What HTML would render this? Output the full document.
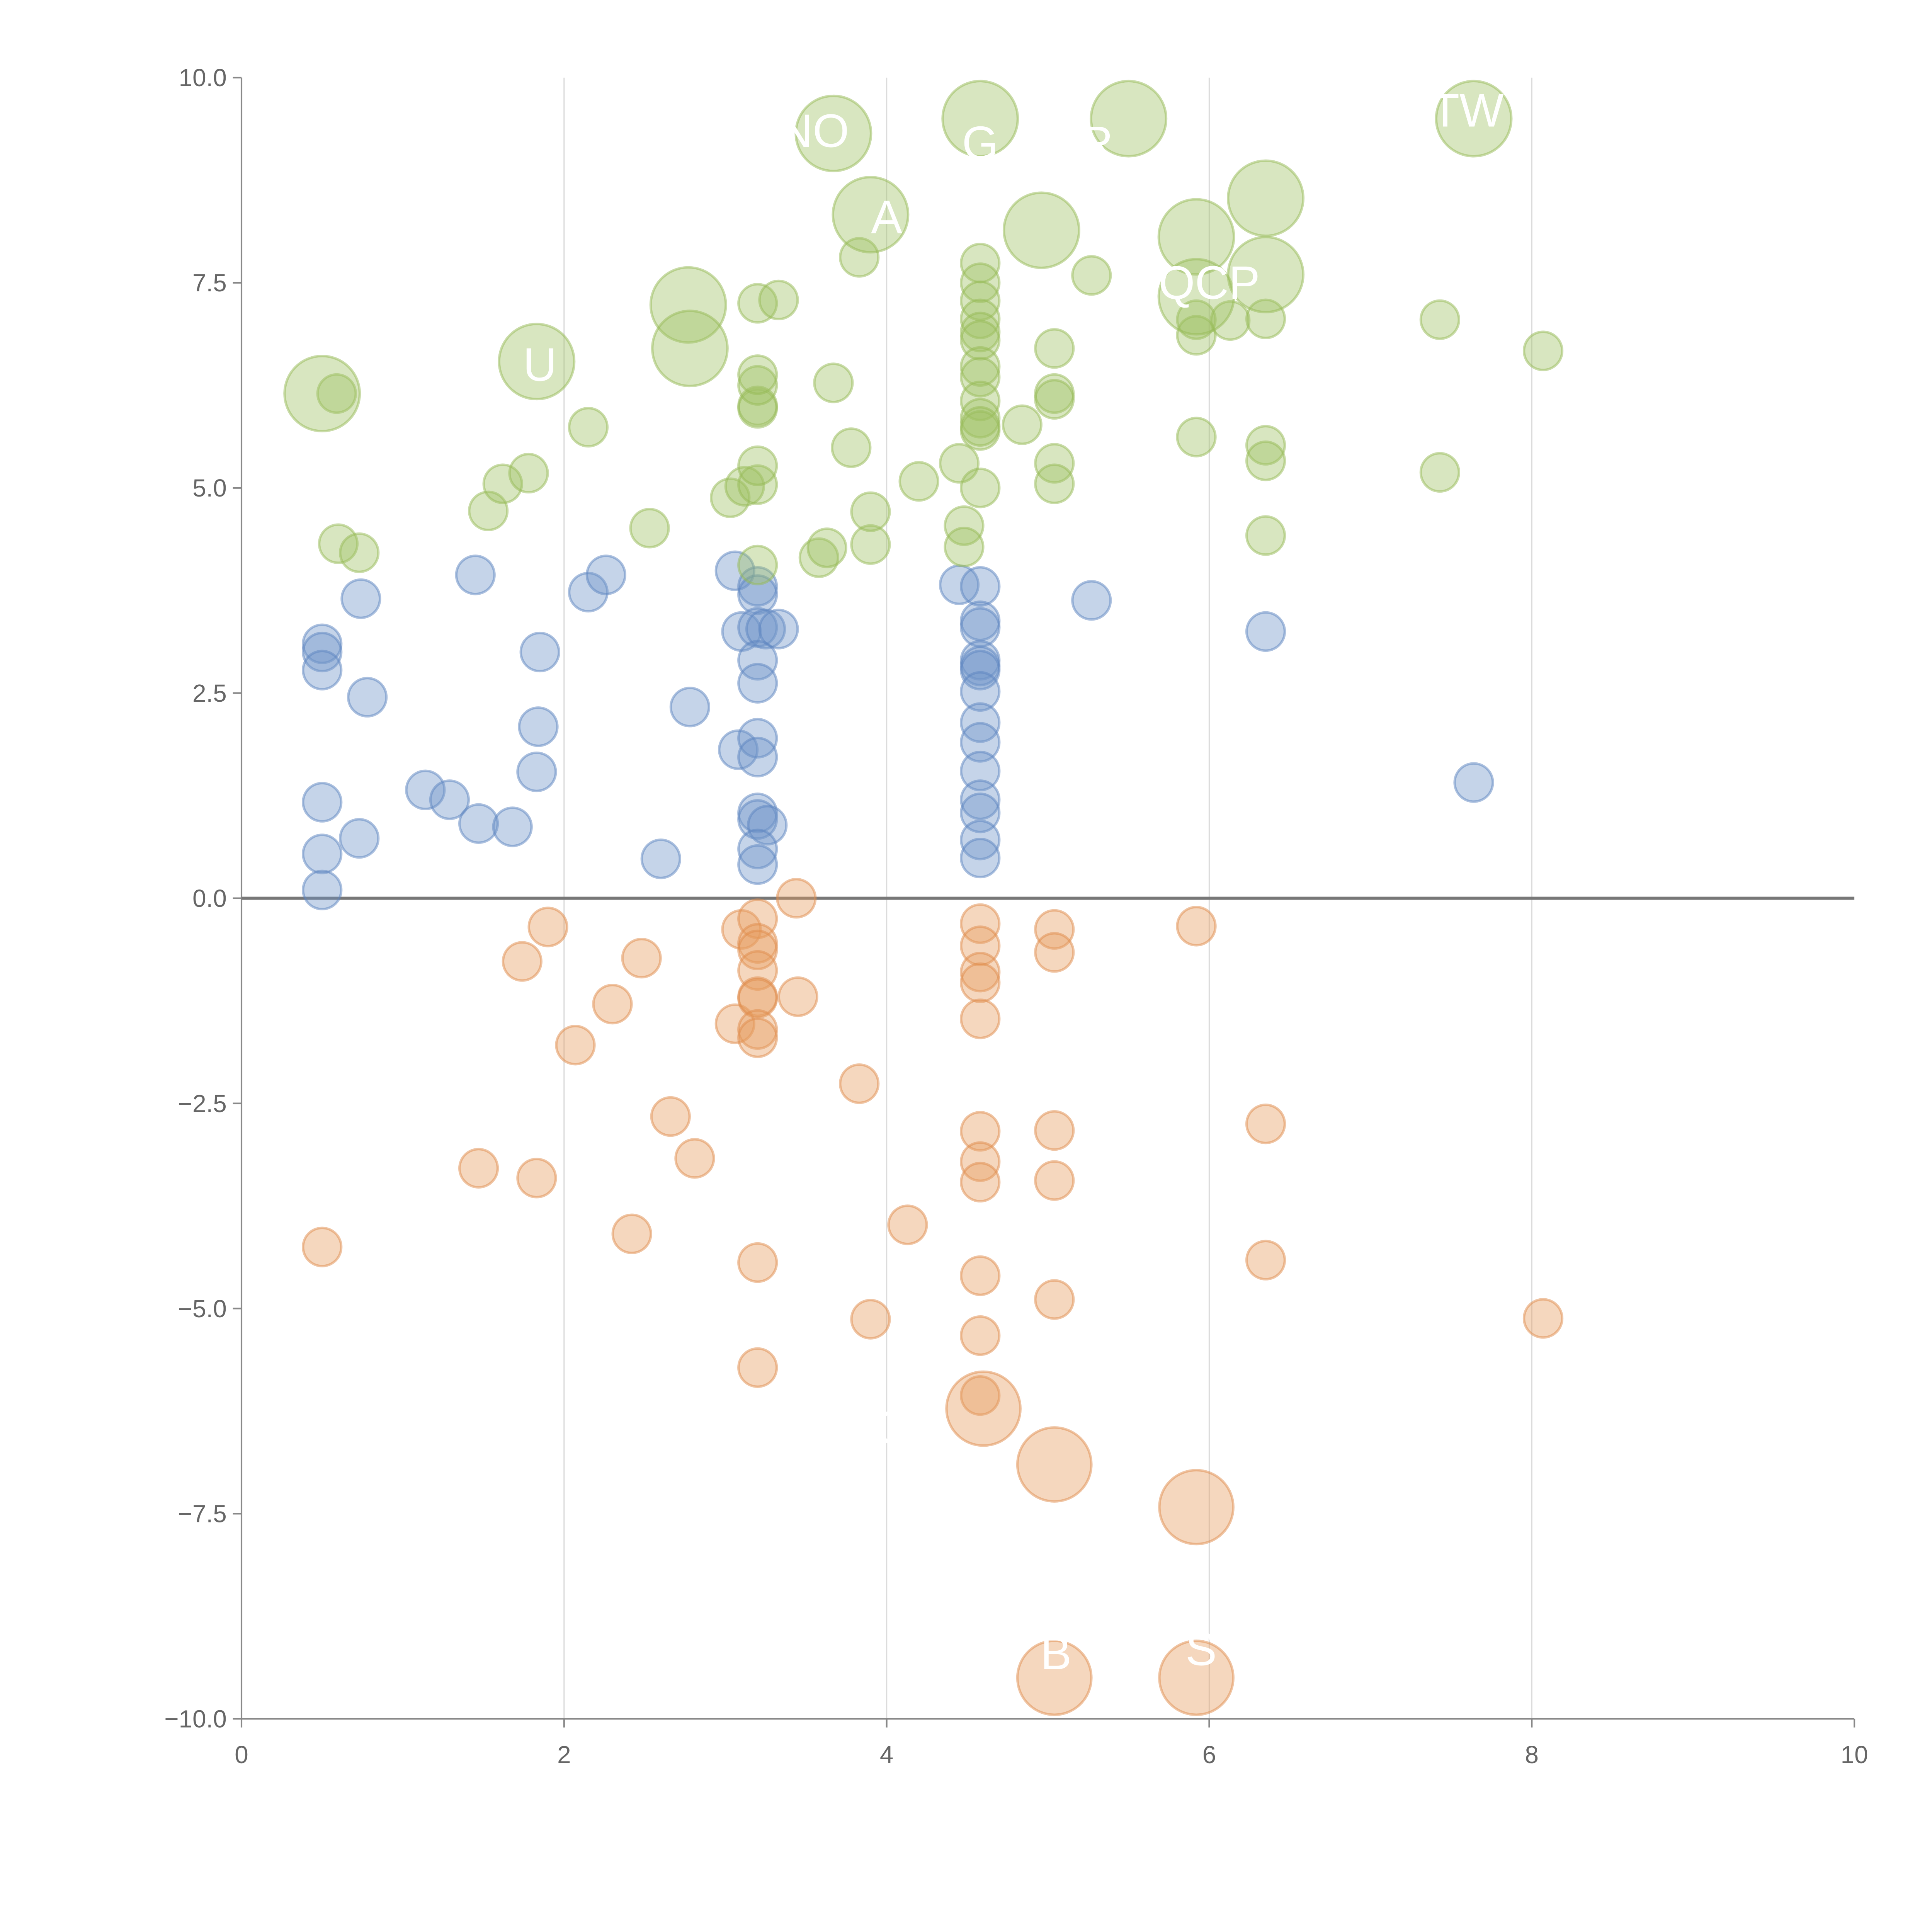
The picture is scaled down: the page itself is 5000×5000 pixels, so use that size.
<!DOCTYPE html>
<html><head><meta charset="utf-8"><style>html,body{margin:0;padding:0;background:#fff}svg{display:block}</style></head>
<body>
<svg id="chart" width="5000" height="5000" viewBox="0 0 1568 1568" xmlns="http://www.w3.org/2000/svg" font-family="Liberation Sans, sans-serif">
<g id="grid"></g>
<g id="axes"></g>
<g id="marks"></g>
<g id="labels"></g>
</svg>
<script>
const xTicks=[0,2,4,6,8,10];
const yTicks=[-10,-7.5,-5,-2.5,0,2.5,5,7.5,10];
const yTickLabels=["\u221210.0","\u22127.5","\u22125.0","\u22122.5","0.0","2.5","5.0","7.5","10.0"];
const blueX=[0.5,0.5,0.5,0.74,0.78,0.5,0.5,0.5,0.73,1.14,1.29,1.47,1.45,1.68,1.85,1.84,1.83,2.15,2.26,2.6,2.78,3.06,3.08,3.1,3.2,3.2,3.2,3.25,3.33,3.2,3.2,3.2,3.2,3.2,3.2,3.26,3.2,3.2,4.45,4.58,4.58,4.58,4.58,4.58,4.58,4.58,4.58,4.58,4.58,4.58,4.58,4.58,4.58,5.27,6.35,7.64];
const blueY=[3.1,3.0,2.78,3.65,2.45,1.17,0.54,0.1,0.73,1.32,1.2,0.91,3.94,0.87,3.0,2.09,1.54,3.73,3.94,0.48,2.33,3.99,1.81,3.25,3.8,3.7,3.3,3.28,3.28,2.9,2.62,1.95,1.72,1.04,0.96,0.89,0.6,0.41,3.82,3.8,3.38,3.3,2.9,2.83,2.78,2.52,2.14,1.9,1.55,1.2,1.04,0.71,0.49,3.63,3.25,1.41];
const orangeX=[0.5,1.47,1.74,1.9,1.83,2.07,2.3,2.48,2.42,2.66,2.81,3.06,3.1,3.2,3.2,3.2,3.2,3.2,3.2,3.2,3.2,3.44,3.45,3.2,3.2,3.83,3.9,4.13,4.58,4.58,4.58,4.58,4.58,4.58,4.58,4.58,4.58,4.58,4.58,5.04,5.04,5.04,5.04,5.04,5.92,6.35,6.35,8.07];
const orangeY=[-4.25,-3.29,-0.77,-0.35,-3.41,-1.79,-1.29,-0.73,-4.09,-2.66,-3.17,-1.53,-0.38,-0.25,-0.55,-0.63,-0.88,-1.2,-1.22,-1.6,-1.7,0.0,-1.2,-4.44,-5.72,-2.26,-5.13,-3.98,-0.31,-0.58,-0.9,-1.03,-1.47,-2.84,-3.21,-3.46,-4.6,-5.33,-6.06,-0.38,-0.66,-2.83,-3.44,-4.89,-0.34,-2.75,-4.41,-5.12];
const orangeBigX=[4.6,5.04,5.92,5.04,5.92];
const orangeBigY=[-6.22,-6.9,-7.42,-9.5,-9.5];
const greenX=[0.6,0.73,0.59,1.53,1.62,1.78,2.15,2.53,3.03,3.12,3.2,3.2,3.2,3.2,3.2,3.2,3.2,3.2,3.33,3.58,3.63,3.67,3.78,3.83,3.9,3.9,4.2,4.45,4.48,4.48,4.58,4.58,4.58,4.58,4.58,4.58,4.58,4.58,4.58,4.58,4.58,4.58,4.58,4.84,5.04,5.04,5.04,5.04,5.04,5.27,5.92,5.92,5.92,6.13,6.35,6.35,6.35,6.35,7.43,7.43,8.07];
const greenY=[4.32,4.21,6.15,4.72,5.05,5.18,5.74,4.51,4.88,5.02,5.04,5.27,4.06,5.97,6.0,6.25,6.38,7.25,7.29,4.15,4.27,6.28,5.49,7.81,4.31,4.71,5.08,5.3,4.54,4.28,7.74,7.5,7.28,7.06,6.9,6.8,6.48,6.35,6.06,5.85,5.7,5.75,5.0,5.77,6.7,6.15,6.08,5.3,5.05,7.59,7.05,6.86,5.62,7.04,7.06,5.52,5.33,4.42,7.05,5.19,6.67];
const greenBigX=[0.5,1.83,2.77,2.78,3.67,3.9,4.58,4.96,5.5,5.92,5.92,6.35,6.35,7.64];
const greenBigY=[6.15,6.54,7.23,6.7,9.32,8.33,9.5,8.14,9.5,8.06,7.33,8.53,7.6,9.5];
const labelText=["NO","G","R","A","QCP","TW","U","IO","B","S"];
const labelX=[3.55,4.58,5.3,4.0,6.0,7.6,1.85,4.0,5.05,5.95];
const labelY=[9.35,9.2,9.2,8.3,7.5,9.6,6.5,-6.45,-9.2,-9.15];

const NS="http://www.w3.org/2000/svg";
const X0=196,X1=1505,Y0=1395,Y1=63;
const sx=v=>X0+(v-0)/(10-0)*(X1-X0);
const sy=v=>Y0-(v+10)/20*(Y0-Y1);
function mk(t,a,p){const e=document.createElementNS(NS,t);for(const k in a)e.setAttribute(k,a[k]);p.appendChild(e);return e;}
const grid=document.getElementById('grid'),axes=document.getElementById('axes'),marks=document.getElementById('marks'),labels=document.getElementById('labels');
[2,4,6,8].forEach(v=>{const l=mk('line',{x1:sx(v),x2:sx(v),y1:Y1,y2:Y0,stroke:'#dcdcdc','stroke-width':1},grid);

});
let a=mk('line',{x1:X0,x2:X0,y1:Y1,y2:Y0,stroke:'#888','stroke-width':1.3},axes);


a=mk('line',{x1:X0,x2:X1,y1:Y0,y2:Y0,stroke:'#888','stroke-width':1.3},axes);


xTicks.forEach(v=>{mk('line',{x1:sx(v),x2:sx(v),y1:Y0,y2:Y0+7,stroke:'#888','stroke-width':1.3},axes);
const t=mk('text',{x:sx(v),y:Y0+36,'text-anchor':'middle','font-size':20,fill:'#666'},axes);t.textContent=v;

});
yTicks.forEach((v,i)=>{mk('line',{x1:X0-7,x2:X0,y1:sy(v),y2:sy(v),stroke:'#888','stroke-width':1.3},axes);
const t=mk('text',{x:X0-12,y:sy(v)+7,'text-anchor':'end','font-size':20,fill:'#666'},axes);t.textContent=yTickLabels[i];

});
function series(xs,ys,r,fill,stroke,name){xs.forEach((x,i)=>{const c=mk('circle',{cx:sx(x),cy:sy(ys[i]),r:r,fill:fill,'fill-opacity':0.4,stroke:stroke,'stroke-opacity':0.5,'stroke-width':2},marks);

});}
series(blueX,blueY,15.5,'#6d93c9','#5b84c0','blue-bubble');
series(orangeX,orangeY,15.5,'#e59a5d','#df8c4c','orange-bubble');
series(orangeBigX,orangeBigY,30,'#e59a5d','#df8c4c','orange-large-bubble');
series(greenX,greenY,15.5,'#9ec062','#95b955','green-bubble');
series(greenBigX,greenBigY,30.5,'#9ec062','#95b955','green-large-bubble');
const z=mk('line',{x1:X0,x2:X1,y1:sy(0),y2:sy(0),stroke:'#777','stroke-width':2.5},axes);


labelText.forEach((s,i)=>{const t=mk('text',{x:sx(labelX[i]),y:sy(labelY[i])+13,'text-anchor':'middle','font-size':38,fill:'#fff'},labels);t.textContent=s;

});
</script>
</body></html>
